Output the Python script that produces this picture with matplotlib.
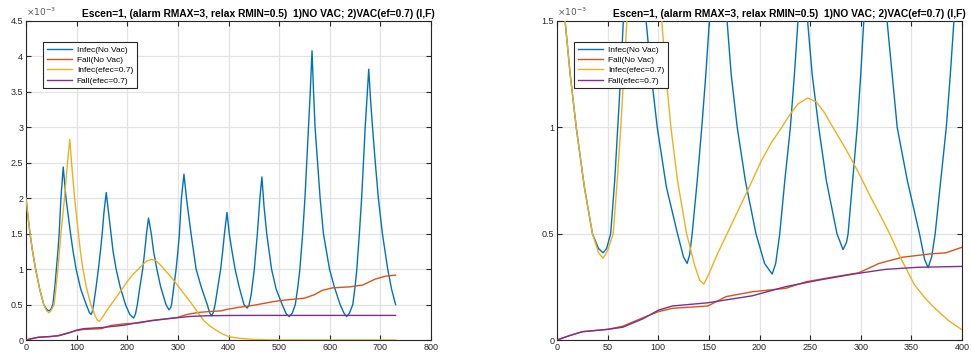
import matplotlib.pyplot as plt
from matplotlib.ticker import FormatStrFormatter, MultipleLocator

# values are in units of 1e-3
t_inf_nv = [0, 4, 8, 13, 19, 27, 35, 41, 45.5, 49, 53, 57, 60, 63, 65.5, 69, 73.5, 79, 88, 93, 99,
            108, 119, 125, 128.5, 131, 133.5, 138.5, 143, 147, 150.5, 154, 158.5, 163, 168, 172,
            178, 186, 196.5, 205, 212.5, 216, 220, 225, 230.5, 234.5, 238, 242, 247.5, 252, 258.5,
            266, 276.5, 282.5, 286, 287.5, 292, 296.5, 300, 303, 307, 312, 317, 326, 331, 336, 346,
            358, 363, 366.5, 370, 373.5, 379, 384.5, 388.5, 392, 397, 401.5, 407, 413, 421, 430.5,
            437, 440.5, 445, 451, 457, 462, 466, 470, 475.5, 485, 494, 506, 514, 520, 526, 532, 537,
            541, 546.5, 551, 554.5, 558, 561.5, 565, 568, 571, 576, 581, 587.5, 599.5, 609, 620.5,
            628, 633.5, 639, 645.5, 650, 653.5, 658.5, 663, 666.5, 670, 673.5, 677, 680.5, 684.5,
            690, 696, 704, 714.5, 722, 730]
inf_nv = [2.00, 1.74, 1.50, 1.25, 1.00, 0.72, 0.50, 0.43, 0.41, 0.43, 0.50, 0.75, 1.00, 1.25, 1.50,
          2.00, 2.44, 2.00, 1.50, 1.25, 1.00, 0.72, 0.50, 0.39, 0.36, 0.40, 0.50, 0.75, 1.00, 1.25,
          1.50, 1.80, 2.08, 1.80, 1.50, 1.25, 1.00, 0.75, 0.50, 0.36, 0.31, 0.36, 0.50, 0.75, 1.00,
          1.25, 1.50, 1.72, 1.50, 1.25, 1.00, 0.75, 0.50, 0.425, 0.46, 0.50, 0.75, 1.00, 1.25, 1.50,
          2.00, 2.34, 2.00, 1.50, 1.25, 1.00, 0.75, 0.50, 0.38, 0.34, 0.39, 0.50, 0.75, 1.00, 1.25,
          1.50, 1.80, 1.50, 1.25, 1.00, 0.75, 0.50, 0.45, 0.49, 0.65, 1.00, 1.50, 2.00, 2.30, 1.90,
          1.50, 1.00, 0.72, 0.50, 0.37, 0.33, 0.38, 0.50, 0.75, 1.00, 1.50, 2.00, 2.50, 3.00, 3.50,
          4.08, 3.50, 3.00, 2.50, 2.00, 1.50, 1.00, 0.75, 0.50, 0.38, 0.33, 0.38, 0.50, 0.75, 1.00,
          1.50, 2.00, 2.50, 3.00, 3.40, 3.82, 3.40, 3.00, 2.50, 2.00, 1.50, 1.00, 0.72, 0.50]

t_fall_nv = [0, 12, 25, 50, 65, 85, 100, 114, 149, 167, 193, 226, 246, 275, 298, 318, 341, 367,
             384, 400, 420, 450, 480, 500, 550, 570, 585, 605, 640, 665, 690, 710, 730]
fall_nv = [0, 0.020, 0.039, 0.050, 0.065, 0.105, 0.133, 0.149, 0.160, 0.204, 0.227, 0.243, 0.274,
           0.298, 0.316, 0.360, 0.389, 0.404, 0.410, 0.436, 0.460, 0.490, 0.530, 0.555, 0.590, 0.640,
           0.700, 0.735, 0.750, 0.775, 0.860, 0.900, 0.915]

t_inf_v = [0, 4, 8, 13, 19, 27, 35, 41, 45.5, 50, 55.5, 59.5, 63, 66, 69, 76, 82, 86.5, 90, 96,
           103.5, 107.5, 112.5, 119, 128, 136, 141, 145, 150, 158, 168, 178, 188, 201.5, 212, 222,
           230, 238, 247.5, 256, 264, 272.5, 285, 297.5, 310, 320, 328.5, 340, 353, 363, 373, 387,
           400, 420, 450, 480, 520, 730]
inf_v = [2.00, 1.74, 1.50, 1.25, 1.00, 0.72, 0.50, 0.41, 0.385, 0.42, 0.50, 0.75, 1.00, 1.25, 1.50,
         2.00, 2.50, 2.83, 2.50, 2.00, 1.50, 1.25, 1.00, 0.75, 0.50, 0.35, 0.28, 0.263, 0.31, 0.40,
         0.50, 0.60, 0.70, 0.84, 0.93, 1.00, 1.06, 1.11, 1.138, 1.12, 1.07, 1.00, 0.90, 0.79, 0.67,
         0.58, 0.50, 0.38, 0.26, 0.20, 0.15, 0.09, 0.048, 0.025, 0.008, 0.002, 0, 0]

t_fall_v = [0, 12, 25, 50, 65, 85, 100, 114, 149, 193, 226, 259, 291.5, 324, 357, 400, 450, 730]
fall_v = [0, 0.020, 0.039, 0.050, 0.060, 0.100, 0.140, 0.160, 0.175, 0.208, 0.251, 0.282, 0.309,
          0.332, 0.342, 0.346, 0.347, 0.347]

labels = ["Infec(No Vac)", "Fall(No Vac)", "Infec(efec=0.7)", "Fall(efec=0.7)"]
colors = ["#0072BD", "#D95319", "#EDB120", "#7E2F8E"]
title = "Escen=1, (alarm RMAX=3, relax RMIN=0.5)  1)NO VAC; 2)VAC(ef=0.7) (I,F)"

plt.rcParams["font.family"] = ["Liberation Sans", "DejaVu Sans"]
dark = "#262626"

fig = plt.figure(figsize=(9.72, 3.59), dpi=100)
ax1 = fig.add_axes([26 / 972, 1 - 340 / 359, 405 / 972, 319 / 359])
ax2 = fig.add_axes([557 / 972, 1 - 340 / 359, 405 / 972, 319 / 359])


def draw(ax, xmax, ymax, xstep, ystep):
    series = [(t_inf_nv, inf_nv), (t_fall_nv, fall_nv), (t_inf_v, inf_v), (t_fall_v, fall_v)]
    for (t, y), c, lab in zip(series, colors, labels):
        ax.plot(t, y, color=c, lw=1.0, label=lab, zorder=3)
    ax.set_xlim(0, xmax)
    ax.set_ylim(0, ymax)
    ax.xaxis.set_major_locator(MultipleLocator(xstep))
    ax.yaxis.set_major_locator(MultipleLocator(ystep))
    ax.yaxis.set_major_formatter(FormatStrFormatter("%g"))
    ax.grid(True, color="#e3e3e3", lw=0.9)
    ax.set_axisbelow(True)
    ax.tick_params(direction="in", length=3.5, width=0.8, top=True, right=True,
                   labelsize=6.5, colors=dark, pad=2)
    for s in ax.spines.values():
        s.set_color(dark)
        s.set_linewidth(0.8)
    ax.set_title(title, fontsize=7.4, fontweight="bold", x=0.573, pad=3, color="black")
    ax.text(0.0, 1.008, r"$\times10^{-3}$", transform=ax.transAxes, fontsize=6.5,
            color="#555555", ha="left", va="bottom")
    leg = ax.legend(loc="upper left", bbox_to_anchor=(0.042, 0.934), borderaxespad=0,
                    fontsize=6, handlelength=3.0, handletextpad=0.6, labelspacing=0.3,
                    borderpad=0.45, fancybox=False, framealpha=1)
    leg.get_frame().set_edgecolor(dark)
    leg.get_frame().set_linewidth(0.8)
    leg.set_zorder(5)


draw(ax1, 800, 4.5, 100, 0.5)
draw(ax2, 400, 1.5, 50, 0.5)

fig.savefig("out.png", dpi=100)
